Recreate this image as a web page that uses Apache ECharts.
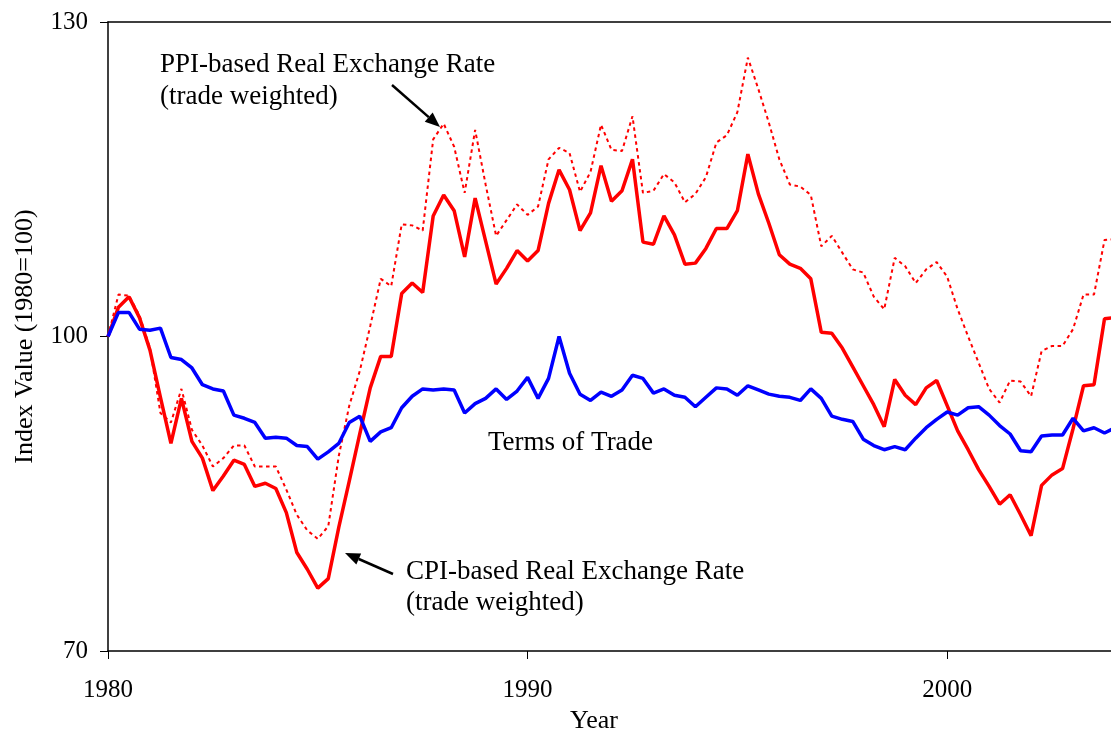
<!DOCTYPE html>
<html>
<head>
<meta charset="utf-8">
<script src="https://cdn.jsdelivr.net/npm/echarts@6/dist/echarts.min.js"></script>
<style>html,body{margin:0;padding:0;background:#fff;overflow:hidden}#c{width:1111px;height:732px}</style>
</head>
<body>
<div id="c"></div>
<script>
// Quarterly periods, 1980Q1 .. 2004Q1
const categories = [
"1980Q1","1980Q2","1980Q3","1980Q4","1981Q1","1981Q2","1981Q3","1981Q4",
"1982Q1","1982Q2","1982Q3","1982Q4","1983Q1","1983Q2","1983Q3","1983Q4",
"1984Q1","1984Q2","1984Q3","1984Q4","1985Q1","1985Q2","1985Q3","1985Q4",
"1986Q1","1986Q2","1986Q3","1986Q4","1987Q1","1987Q2","1987Q3","1987Q4",
"1988Q1","1988Q2","1988Q3","1988Q4","1989Q1","1989Q2","1989Q3","1989Q4",
"1990Q1","1990Q2","1990Q3","1990Q4","1991Q1","1991Q2","1991Q3","1991Q4",
"1992Q1","1992Q2","1992Q3","1992Q4","1993Q1","1993Q2","1993Q3","1993Q4",
"1994Q1","1994Q2","1994Q3","1994Q4","1995Q1","1995Q2","1995Q3","1995Q4",
"1996Q1","1996Q2","1996Q3","1996Q4","1997Q1","1997Q2","1997Q3","1997Q4",
"1998Q1","1998Q2","1998Q3","1998Q4","1999Q1","1999Q2","1999Q3","1999Q4",
"2000Q1","2000Q2","2000Q3","2000Q4","2001Q1","2001Q2","2001Q3","2001Q4",
"2002Q1","2002Q2","2002Q3","2002Q4","2003Q1","2003Q2","2003Q3","2003Q4",
"2004Q1"];

const termsOfTrade = [
100.0,102.3,102.3,100.7,100.6,100.8,98.0,97.8,97.0,95.4,
95.0,94.8,92.5,92.2,91.8,90.3,90.4,90.3,89.6,89.5,
88.3,89.0,89.8,91.8,92.4,90.0,90.9,91.3,93.2,94.3,
95.0,94.9,95.0,94.9,92.7,93.6,94.1,95.0,94.0,94.8,
96.1,94.1,96.0,100.0,96.5,94.5,93.9,94.7,94.3,94.9,
96.3,96.0,94.6,95.0,94.4,94.2,93.3,94.2,95.1,95.0,
94.4,95.3,94.9,94.5,94.3,94.2,93.9,95.0,94.1,92.4,
92.1,91.9,90.2,89.6,89.2,89.5,89.2,90.3,91.3,92.1,
92.8,92.5,93.2,93.3,92.5,91.5,90.7,89.1,89.0,90.5,
90.6,90.6,92.2,91.0,91.3,90.8,91.3];

const cpiRER = [
100.0,102.8,103.8,101.8,98.7,94.2,89.8,94.1,90.0,88.4,
85.3,86.7,88.2,87.8,85.7,86.0,85.5,83.2,79.4,77.8,
76.0,76.9,81.8,86.2,90.7,95.1,98.1,98.1,104.1,105.1,
104.2,111.5,113.5,112.0,107.6,113.2,109.1,105.0,106.5,108.2,
107.2,108.2,112.7,115.9,114.0,110.1,111.8,116.3,112.9,113.9,
116.9,109.0,108.8,111.5,109.7,106.9,107.0,108.4,110.3,110.3,
112.0,117.4,113.6,110.8,107.8,106.9,106.5,105.5,100.4,100.3,
98.9,97.1,95.3,93.5,91.4,95.9,94.4,93.5,95.1,95.8,
93.4,91.0,89.2,87.3,85.7,84.0,84.9,83.0,81.0,85.8,
86.8,87.4,91.2,95.3,95.4,101.7,101.8];

const ppiRER = [
100.0,104.0,103.9,102.0,98.9,92.7,91.8,95.0,91.1,89.6,
87.6,88.4,89.6,89.6,87.6,87.6,87.6,85.4,83.0,81.5,
80.7,81.9,88.6,93.4,96.7,101.0,105.5,104.8,110.7,110.6,
110.1,118.8,120.3,118.1,113.7,119.7,114.5,109.6,111.1,112.6,
111.6,112.4,116.9,118.0,117.5,113.8,115.7,120.2,117.8,117.7,
121.0,113.7,113.9,115.5,114.7,112.8,113.6,115.2,118.5,119.2,
121.4,126.6,123.6,120.4,116.9,114.5,114.3,113.5,108.6,109.6,
108.0,106.4,106.1,103.8,102.6,107.5,106.7,105.1,106.4,107.1,
105.7,102.6,100.0,97.5,95.0,93.7,95.8,95.7,94.3,98.6,
99.1,99.1,100.7,104.0,104.0,109.2,109.3];

const xTickYears = ["1980","1990","2000"];
const yTicks = [70, 100, 130];

const FONT = 'Liberation Serif';

function isMajor(value) {
  return value.slice(4) === 'Q1' && xTickYears.indexOf(value.slice(0, 4)) >= 0;
}

function arrow(x1, y1, x2, y2) {
  const ang = Math.atan2(y2 - y1, x2 - x1);
  const L = 15, W = 6;
  const bx = x2 - L * Math.cos(ang), by = y2 - L * Math.sin(ang);
  const px = -Math.sin(ang) * W, py = Math.cos(ang) * W;
  return [
    {type: 'line', silent: true, shape: {x1: x1, y1: y1, x2: bx, y2: by}, style: {stroke: '#000', lineWidth: 2.5}},
    {type: 'polygon', silent: true, shape: {points: [[x2, y2], [bx + px, by + py], [bx - px, by - py]]}, style: {fill: '#000'}}
  ];
}

function label(text, x, y) {
  return {type: 'text', silent: true, x: x, y: y,
    style: {text: text, fill: '#000', font: '27px "' + FONT + '"', textAlign: 'left', textVerticalAlign: 'middle'}};
}

const chart = echarts.init(document.getElementById('c'), null, {renderer: 'canvas'});

const option = {
  animation: false,
  backgroundColor: '#fff',
  grid: {left: 108, right: -4, top: 22, bottom: 81, containLabel: false, outerBoundsMode: 'none'},
  xAxis: [{
    type: 'category',
    data: categories,
    boundaryGap: false,
    axisLine: {lineStyle: {color: '#000', width: 1.5}},
    axisTick: {show: true, inside: false, length: 8, interval: function (i, v) { return isMajor(v); }, lineStyle: {color: '#000', width: 1}},
    axisLabel: {interval: function (i, v) { return isMajor(v); }, formatter: function (v) { return v.slice(0, 4); },
      fontFamily: FONT, fontSize: 25, color: '#000', margin: 27},
    splitLine: {show: false},
    name: 'Year', nameLocation: 'middle', nameGap: 55,
    nameTextStyle: {fontFamily: FONT, fontSize: 26, color: '#000', padding: [0, 35, 0, 0]}
  }, {
    type: 'category',
    data: categories,
    boundaryGap: false,
    position: 'top',
    axisLine: {lineStyle: {color: '#000', width: 1.5}},
    axisTick: {show: false},
    axisLabel: {show: false},
    splitLine: {show: false}
  }],
  yAxis: {
    type: 'value',
    min: yTicks[0], max: yTicks[yTicks.length - 1], interval: yTicks[1] - yTicks[0],
    axisLine: {show: true, lineStyle: {color: '#000', width: 1.5}},
    axisTick: {show: true, inside: false, length: 8, lineStyle: {color: '#000', width: 1}},
    axisLabel: {fontFamily: FONT, fontSize: 25, color: '#000', margin: 20},
    splitLine: {show: false},
    name: 'Index Value (1980=100)', nameLocation: 'middle', nameGap: 70,
    nameTextStyle: {fontFamily: FONT, fontSize: 26, color: '#000'}
  },
  series: [{
    name: 'PPI-based Real Exchange Rate (trade weighted)',
    type: 'line', data: ppiRER, symbol: 'none', showSymbol: false,
    lineStyle: {color: '#ff0000', width: 2, type: [3.5, 3.5]}
  }, {
    name: 'CPI-based Real Exchange Rate (trade weighted)',
    type: 'line', data: cpiRER, symbol: 'none', showSymbol: false,
    lineStyle: {color: '#ff0000', width: 3.5}
  }, {
    name: 'Terms of Trade',
    type: 'line', data: termsOfTrade, symbol: 'none', showSymbol: false,
    lineStyle: {color: '#0000ff', width: 3.5}
  }],
  graphic: [
    label('PPI-based Real Exchange Rate', 160, 64.5),
    label('(trade weighted)', 160, 96.5),
    label('Terms of Trade', 488, 443),
    label('CPI-based Real Exchange Rate', 406, 571.5),
    label('(trade weighted)', 406, 603)
  ].concat(arrow(392, 85, 440, 127)).concat(arrow(393, 574, 345, 553))
};
chart.setOption(option);
</script>
</body>
</html>
